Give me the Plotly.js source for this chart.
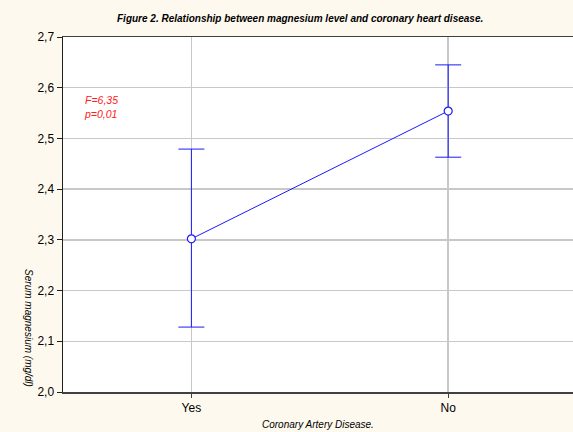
<!DOCTYPE html>
<html>
<head>
<meta charset="utf-8">
<script src="https://cdn.plot.ly/plotly-3.0.1.min.js"></script>
<style>html,body{margin:0;padding:0;background:#fef9ee;}#chart{width:573px;height:432px;}</style>
</head>
<body>
<div id="chart"></div>
<script>
var categories = ["Yes", "No"];
var means = [2.302, 2.554];
var upper = [2.479, 2.645];
var lower = [2.128, 2.463];
var yTickVals = [2.0, 2.1, 2.2, 2.3, 2.4, 2.5, 2.6, 2.7];
var yTickText = ["2,0", "2,1", "2,2", "2,3", "2,4", "2,5", "2,6", "2,7"];

var xIdx = categories.map(function(c, i){ return i; });
var trace = {
  x: xIdx,
  y: means,
  type: 'scatter',
  mode: 'lines+markers',
  line: {color: '#1a1aff', width: 1},
  marker: {symbol: 'circle', size: 8, color: '#ffffff', line: {color: '#1a1aff', width: 1.2}},
  error_y: {
    type: 'data', symmetric: false,
    array: upper.map(function(u, i){ return u - means[i]; }),
    arrayminus: lower.map(function(l, i){ return means[i] - l; }),
    color: '#1a1aff', thickness: 1, width: 13
  },
  hoverinfo: 'none'
};

var layout = {
  width: 573, height: 432,
  paper_bgcolor: '#fef9ee',
  plot_bgcolor: '#ffffff',
  margin: {l: 63, r: 0, t: 37, b: 40},
  showlegend: false,
  font: {family: 'Liberation Sans, Arial, sans-serif', color: '#000000'},
  xaxis: {
    range: [-0.5, 1.486],
    tickvals: xIdx, ticktext: categories,
    showgrid: true, gridcolor: '#c8c8c8', gridwidth: 1.5,
    zeroline: false,
    showline: true, linecolor: '#404040', linewidth: 1.5, mirror: true,
    ticks: 'outside', ticklen: 4, tickcolor: '#404040',
    tickfont: {size: 12, family: 'Liberation Sans, Arial, sans-serif'}
  },
  yaxis: {
    range: [2.0, 2.7],
    tickvals: yTickVals, ticktext: yTickText,
    showgrid: true, gridcolor: '#c8c8c8', gridwidth: 1.5,
    zeroline: false,
    showline: true, linecolor: '#202020', linewidth: 1.5,
    ticks: 'outside', ticklen: 5, tickcolor: '#202020',
    tickfont: {size: 12, family: 'Liberation Sans, Arial, sans-serif'}
  },
  annotations: [
    {text: '<b><i>Figure 2. Relationship between magnesium level and coronary heart disease.</i></b>',
     xref: 'paper', yref: 'paper', x: 0.465, y: 1, yshift: 19, xanchor: 'center', yanchor: 'middle',
     showarrow: false, font: {size: 10, family: 'Liberation Sans, Arial, sans-serif', color: '#000000'}},
    {text: '<i>Coronary Artery Disease.</i>',
     xref: 'paper', yref: 'paper', x: 0.5, y: 0, yshift: -32, xanchor: 'center', yanchor: 'middle',
     showarrow: false, font: {size: 10, family: 'Liberation Sans, Arial, sans-serif', color: '#000000'}},
    {text: '<i>Serum magnesium (mg/dl)</i>',
     xref: 'paper', yref: 'paper', x: 0, xshift: -34, y: 0.18, xanchor: 'center', yanchor: 'middle',
     textangle: 90,
     showarrow: false, font: {size: 10, family: 'Liberation Sans, Arial, sans-serif', color: '#000000'}},
    {text: '<i>F=6,35<br>p=0,01</i>',
     xref: 'paper', yref: 'paper', x: 0, xshift: 19, y: 0.804, xanchor: 'left', yanchor: 'middle', align: 'left',
     showarrow: false, font: {size: 10.5, family: 'Liberation Sans, Arial, sans-serif', color: '#ff2020'}}
  ]
};

Plotly.newPlot('chart', [trace], layout, {displayModeBar: false, staticPlot: true});
</script>
</body>
</html>
